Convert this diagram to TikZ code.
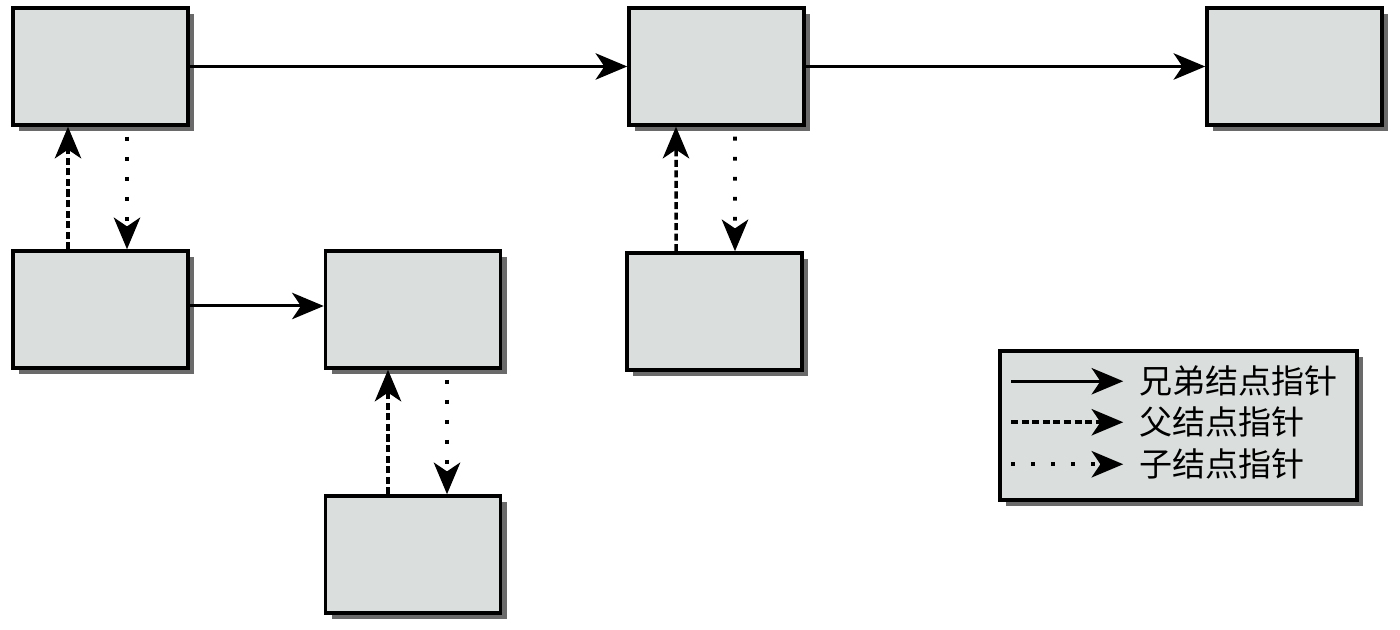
\documentclass[tikz,border=0pt]{standalone}
\usepackage{fontspec}
\newfontfamily\cjk{Noto Sans CJK SC}
\usetikzlibrary{positioning,arrows.meta,shadows}
\definecolor{treeFill}{HTML}{DADFDD}
\definecolor{treeShadow}{HTML}{6A6A6A}

\begin{document}
\begin{tikzpicture}[
    treebox/.style={draw=black,line width=1pt,fill=treeFill,minimum width=1.75cm,minimum height=1.17cm,
      drop shadow={shadow xshift=0.06cm,shadow yshift=-0.06cm,fill=treeShadow,opacity=1}},
    legendbox/.style={treebox,minimum width=3.57cm,minimum height=1.49cm},
    legendtext/.style={font=\cjk\fontsize{9.4}{11}\selectfont,inner sep=1pt},
    sibling/.style={line width=0.85pt,-{Stealth[length=9pt,width=7.5pt,inset=2.5pt]}},
    parent/.style={sibling,line width=1pt,dash pattern=on 2pt off 1pt},
    child/.style={sibling,line width=1.1pt,dash pattern=on 1.1pt off 4.6pt}]
  \useasboundingbox (0,0) rectangle (14,-6.3);

  % tree nodes
  \node[treebox] (first)   at (1.005,-0.665) {};
  \node[treebox] (second)  at (7.165,-0.665) {};
  \node[treebox] (third)   at (12.945,-0.665) {};
  \node[treebox] (firstC)  at (1.005,-3.095) {};
  \node[treebox] (firstCS) at (4.13,-3.095) {};
  \node[treebox] (secondC) at (7.145,-3.115) {};
  \node[treebox] (leaf)    at (4.13,-5.545) {};

  % sibling pointers
  \draw[sibling] (first) -- (second);
  \draw[sibling] (second) -- (third);
  \draw[sibling] ([yshift=0.035cm]firstC.east) -- ([yshift=0.035cm]firstCS.west);

  % parent / child pointers
  \draw[parent] ([xshift=-0.325cm]firstC.north) -- ([xshift=-0.325cm]first.south);
  \draw[child,shorten <=0.1cm] ([xshift=0.265cm]first.south) -- ([xshift=0.265cm]firstC.north);
  \draw[parent] ([xshift=-0.385cm]secondC.north) -- ([xshift=-0.405cm]second.south);
  \draw[child,shorten <=0.1cm] ([xshift=0.185cm]second.south) -- ([xshift=0.205cm]secondC.north);
  \draw[parent] ([xshift=-0.25cm]leaf.north) -- ([xshift=-0.25cm]firstCS.south);
  \draw[child,shorten <=0.1cm] ([xshift=0.34cm]firstCS.south) -- ([xshift=0.34cm]leaf.north);

  % legend
  \node[legendbox] (legend) at (11.785,-4.255) {};
  \foreach \sty/\txt/\dy [count=\i] in {sibling/兄弟结点指针/0.32,parent/父结点指针/0.73,child/子结点指针/1.15} {
    \coordinate (key\i) at ([xshift=0.13cm,yshift=-\dy cm]legend.north west);
    \node[legendtext,anchor=west] (keytext\i) at ([xshift=1.24cm]key\i) {\txt};
    \draw[\sty,shorten >=0.12cm] (key\i) -- (keytext\i.west);
  }
\end{tikzpicture}
\end{document}
